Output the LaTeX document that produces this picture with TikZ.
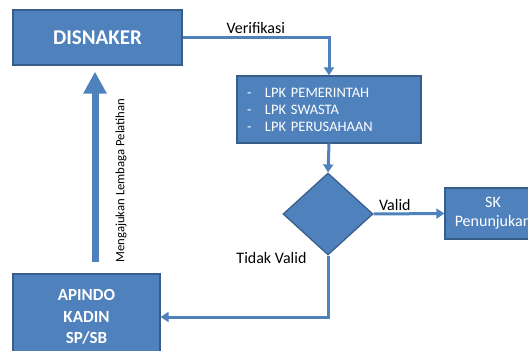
\documentclass[tikz,border=0pt]{standalone}
\usepackage{fontspec}
\setmainfont{Carlito}
\usetikzlibrary{arrows.meta,shapes.geometric}
\definecolor{boxblue}{RGB}{79,129,189}
\definecolor{boxedge}{RGB}{56,93,138}

\tikzset{
  blok/.style={draw=boxedge,line width=1.2pt,fill=boxblue,text=white,inner sep=0pt},
  alur/.style={draw=boxblue,line width=3pt,-{Triangle[width=10pt,length=8pt]}},
  lbl/.style={font=\fontsize{16}{19}\selectfont,inner sep=2pt},
}

\begin{document}
\begin{tikzpicture}[x=1pt,y=-1pt]
  \clip (0,0) rectangle (528,351);
  \useasboundingbox (0,0) rectangle (528,351);
  % boxes
  \node[blok,minimum width=169,minimum height=55,font=\fontsize{21}{25}\selectfont\bfseries] (disnaker) at (97.5,37.5) {DISNAKER};
  \node[blok,minimum width=184,minimum height=67,text width=164,align=left,font=\fontsize{14.5}{17}\selectfont] (lpk) at (329,109.5)
    {\makebox[18pt][l]{-}LPK PEMERINTAH\\ \makebox[18pt][l]{-}LPK SWASTA\\ \makebox[18pt][l]{-}LPK PERUSAHAAN};
  \node[blok,diamond,minimum width=90,minimum height=82] (cek) at (328,214) {};
  \node[blok,minimum width=96,minimum height=51,align=center,font=\fontsize{16}{19}\selectfont] (sk) at (493,213.5) {SK\\Penunjukan};
  \node[blok,minimum width=147,minimum height=86,align=center,font=\fontsize{17}{21.5}\selectfont\bfseries] (apindo) at (86.5,317) {APINDO\\KADIN\\SP/SB};
  % connectors
  \draw[alur] (disnaker.east) -| node[lbl,pos=0.25,above]{Verifikasi} (lpk.north);
  \draw[alur] (lpk.south) -- (cek.north);
  \draw[alur] (cek.east) -- node[lbl,pos=0.3,above]{Valid} (sk.west);
  \draw[alur] (cek.south) |- node[lbl,pos=0,anchor=east,xshift=-18pt,yshift=-2pt]{Tidak Valid} (apindo.east);
  \draw[draw=boxblue,line width=7pt,-{Triangle[width=22pt,length=22pt]}] ([xshift=8.5pt,yshift=11pt]apindo.north) -- ([xshift=-2.5pt,yshift=-6pt]disnaker.south);
  \node[font=\fontsize{12.7}{15}\selectfont,rotate=90] (ajuan) at (121,180.5) {Mengajukan Lembaga Pelatihan};
\end{tikzpicture}
\end{document}
